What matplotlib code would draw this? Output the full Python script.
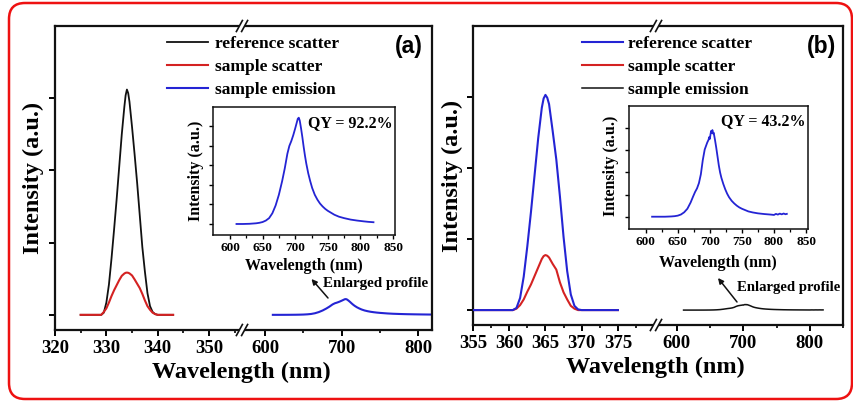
import matplotlib
matplotlib.use('Agg')
import matplotlib.pyplot as plt
from matplotlib.patches import FancyBboxPatch, Polygon, FancyArrowPatch
from matplotlib.lines import Line2D

# ---------------- data ----------------
# panel (a) excitation scatter, 325-343 nm
scat_a_x = [325.0, 326.0, 327.0, 328.0, 328.5, 329.0, 329.5, 330.0, 330.5, 331.0, 331.5, 332.0,
            332.5, 333.0, 333.5, 333.75, 334.0, 334.25, 334.5, 335.0, 335.5, 336.0, 336.5,
            337.0, 337.5, 338.0, 338.5, 339.0, 339.5, 340.0, 341.0, 342.0, 343.0]
ref_scatter_a = [0, 0, 0, 0, 0, 0.0, 0.03, 0.17, 0.42, 0.78, 1.18, 1.60,
                 2.05, 2.50, 2.88, 3.04, 3.12, 3.07, 2.95, 2.60, 2.22, 1.82, 1.38,
                 0.94, 0.60, 0.30, 0.12, 0.04, 0.01, 0, 0, 0, 0]
smp_scatter_a = [0, 0, 0, 0, 0, 0.0, 0.04, 0.09, 0.17, 0.26, 0.34, 0.41,
                 0.48, 0.54, 0.572, 0.582, 0.585, 0.582, 0.574, 0.545, 0.49, 0.43, 0.37,
                 0.29, 0.20, 0.12, 0.07, 0.03, 0.01, 0, 0, 0, 0]

# panel (b) excitation scatter, 355-375 nm
scat_b_x = [355.0, 357.0, 359.0, 360.0, 360.5, 361.0, 361.5, 362.0, 362.5, 363.0, 363.5, 364.0,
            364.5, 364.75, 365.0, 365.25, 365.5, 366.0, 366.5, 367.0, 367.5, 368.0, 368.5,
            369.0, 369.5, 370.0, 372.0, 375.0]
ref_scatter_b = [0, 0, 0, 0, 0, 0.03, 0.17, 0.47, 0.90, 1.38, 1.90, 2.42,
                 2.85, 2.98, 3.03, 2.99, 2.90, 2.52, 2.12, 1.60, 1.03, 0.55, 0.22,
                 0.06, 0.01, 0, 0, 0]
smp_scatter_b = [0, 0, 0, 0, 0, 0.02, 0.07, 0.15, 0.26, 0.36, 0.48, 0.60,
                 0.72, 0.76, 0.775, 0.765, 0.74, 0.65, 0.57, 0.39, 0.25, 0.15, 0.06,
                 0.02, 0.0, 0, 0, 0]

# sample emission of (a): normalised inset profile and the unenlarged main-panel profile
em_a_x = [610, 620, 630, 640, 645, 650, 655, 660, 665, 670, 675, 680, 684, 688, 691, 694,
          697, 700, 702, 704, 705.5, 707, 709, 711, 713, 715, 717, 720, 723, 726, 730, 734,
          738, 742, 746, 750, 755, 760, 767, 775, 785, 795, 805, 812, 820]
em_a_inset = [0.0, 0.0, 0.002, 0.007, 0.012, 0.02, 0.035, 0.06, 0.11, 0.19, 0.30, 0.44,
              0.57, 0.72, 0.80, 0.85, 0.91, 0.98, 1.03, 1.08, 1.09, 1.06, 0.98, 0.89, 0.79,
              0.70, 0.62, 0.52, 0.44, 0.37, 0.30, 0.25, 0.21, 0.18, 0.155, 0.135, 0.115,
              0.095, 0.075, 0.06, 0.045, 0.035, 0.027, 0.022, 0.018]
em_a_main = [0.0, 0.0, 0.0004, 0.0014, 0.0024, 0.004, 0.007, 0.012, 0.022, 0.038, 0.06,
             0.088, 0.114, 0.144, 0.16, 0.17, 0.182, 0.196, 0.206, 0.216, 0.218, 0.212,
             0.196, 0.178, 0.158, 0.14, 0.124, 0.104, 0.088, 0.074, 0.06, 0.05, 0.042,
             0.036, 0.031, 0.027, 0.023, 0.019, 0.015, 0.012, 0.009, 0.007, 0.0054, 0.0044,
             0.0036]

# sample emission of (b)
em_b_x = [610, 620, 630, 640, 645, 650, 655, 660, 665, 670, 674, 677, 680, 683, 686, 689,
          692, 694, 696, 698, 699, 700, 701, 702, 703, 704, 705, 706, 707, 708, 710, 712,
          714, 716, 718, 721, 724, 727, 730, 734, 738, 742, 746, 750, 755, 760, 767, 775,
          785, 795, 800, 803, 806, 809, 812, 815, 818, 820]
em_b_inset = [0.0, 0.0, 0.0, 0.003, 0.006, 0.012, 0.025, 0.05, 0.09, 0.16, 0.23, 0.28,
              0.32, 0.38, 0.48, 0.64, 0.76, 0.80, 0.84, 0.87, 0.90, 0.88, 0.93, 0.97, 0.95,
              0.98, 0.94, 0.95, 0.91, 0.87, 0.78, 0.68, 0.58, 0.50, 0.44, 0.37, 0.31, 0.26,
              0.22, 0.18, 0.15, 0.125, 0.105, 0.09, 0.075, 0.06, 0.048, 0.038, 0.03, 0.024,
              0.02, 0.032, 0.024, 0.035, 0.027, 0.036, 0.028, 0.032]
em_b_main = [0.0, 0.0, 0.0, 0.0002, 0.0005, 0.001, 0.002, 0.004, 0.0072, 0.0128, 0.0184,
             0.0224, 0.0256, 0.0304, 0.0384, 0.0512, 0.0608, 0.064, 0.0672, 0.0696, 0.072,
             0.0704, 0.0744, 0.0776, 0.076, 0.0784, 0.0752, 0.076, 0.0728, 0.0696, 0.0624,
             0.0544, 0.0464, 0.04, 0.0352, 0.0296, 0.0248, 0.0208, 0.0176, 0.0144, 0.012,
             0.01, 0.0084, 0.0072, 0.006, 0.0048, 0.0038, 0.003, 0.0024, 0.0019, 0.0016,
             0.0026, 0.0019, 0.0028, 0.0022, 0.0029, 0.0022, 0.0026]

labels_a = ['reference scatter', 'sample scatter', 'sample emission']
labels_b = ['reference scatter', 'sample scatter', 'sample emission']
qy_a = 'QY = 92.2%'
qy_b = 'QY = 43.2%'

main_ticks_a_left = [320, 330, 340, 350]
main_ticks_a_right = [600, 700, 800]
main_ticks_b_left = [355, 360, 365, 370, 375]
main_ticks_b_right = [600, 700, 800]
inset_ticks = [600, 650, 700, 750, 800, 850]

# ---------------- styling ----------------
W, H = 854, 405
fig = plt.figure(figsize=(W / 100, H / 100), dpi=100)
fig.patch.set_facecolor('white')
SERIF = ['Liberation Serif', 'DejaVu Serif']
SANS = ['Liberation Sans', 'DejaVu Sans']
plt.rcParams['font.family'] = SERIF
plt.rcParams['font.weight'] = 'bold'

BLACK = '#111111'
RED = '#d42222'
BLUE = '#2424d4'


def fx(px):
    return px / W


def fy(py):
    return 1 - py / H


def rect(l, t, r, b):
    return [fx(l), fy(b), (r - l) / W, (b - t) / H]


def style_main(ax, side):
    for s in ax.spines.values():
        s.set_linewidth(1.6)
        s.set_color(BLACK)
    if side == 'left':
        ax.spines['right'].set_visible(False)
        ax.tick_params(axis='y', which='both', left=True, right=False, direction='out',
                       length=4, width=1.4, labelleft=False)
    else:
        ax.spines['left'].set_visible(False)
        ax.tick_params(axis='y', which='both', left=False, right=False, labelleft=False)
    ax.tick_params(axis='x', which='major', direction='out', length=4, width=1.4, pad=3,
                   labelsize=13.5, top=False)
    ax.tick_params(axis='x', which='minor', direction='out', length=2.5, width=1.2, top=False)
    ax.set_ylim(-0.21, 4.0)
    ax.set_yticks([0, 1, 2, 3])
    ax.set_facecolor('none')
    for lab in ax.get_xticklabels():
        lab.set_fontweight('bold')


def style_inset(ax):
    for s in ax.spines.values():
        s.set_linewidth(1.1)
        s.set_color(BLACK)
    ax.tick_params(axis='both', which='major', direction='out', length=3, width=1.0,
                   labelsize=9.5, pad=2)
    ax.tick_params(axis='x', which='minor', direction='out', length=2, width=0.9)
    ax.tick_params(axis='y', labelleft=False)
    ax.set_xlim(574, 853)
    ax.set_xticks(inset_ticks)
    ax.set_xticks([625, 675, 725, 775, 825], minor=True)


a_left = fig.add_axes(rect(55, 26, 243, 330))
a_right = fig.add_axes(rect(243, 26, 432, 330))
b_left = fig.add_axes(rect(473, 26, 657, 325))
b_right = fig.add_axes(rect(657, 26, 843, 325))

# panel (a)
l1, = a_left.plot(scat_a_x, ref_scatter_a, color=BLACK, lw=1.3, zorder=2)
l2, = a_left.plot(scat_a_x, smp_scatter_a, color=RED, lw=1.5, zorder=3)
l3, = a_right.plot(em_a_x, em_a_main, color=BLUE, lw=1.5)
a_left.set_xlim(320, 356.6)
a_left.set_xticks(main_ticks_a_left)
a_left.set_xticks([325, 335, 345, 355], minor=True)
a_right.set_xlim(571, 818)
a_right.set_xticks(main_ticks_a_right)
a_right.set_xticks([650, 750], minor=True)
style_main(a_left, 'left')
style_main(a_right, 'right')

# panel (b)
m2, = b_left.plot(scat_b_x, smp_scatter_b, color=RED, lw=1.5, zorder=2)
m1, = b_left.plot(scat_b_x, ref_scatter_b, color=BLUE, lw=1.5, zorder=3)
m3, = b_right.plot(em_b_x, em_b_main, color=BLACK, lw=1.1)
b_left.set_xlim(355, 380.4)
b_left.set_xticks(main_ticks_b_left)
b_left.set_xticks([357.5, 362.5, 367.5, 372.5, 377.5], minor=True)
b_right.set_xlim(570, 849)
b_right.set_xticks(main_ticks_b_right)
b_right.set_xticks([650, 750, 850], minor=True)
style_main(b_left, 'left')
style_main(b_right, 'right')

# insets
a_ins = fig.add_axes(rect(213, 107, 395, 235))
a_ins.plot(em_a_x, em_a_inset, color=BLUE, lw=1.3)
style_inset(a_ins)
a_ins.set_ylim(-0.113, 1.2)
a_ins.set_yticks([0, 0.2, 0.4, 0.6, 0.8, 1.0])
a_ins.text(0.522, 0.875, qy_a, transform=a_ins.transAxes, fontsize=11.5,
           fontweight='bold', va='center', ha='left')

b_ins = fig.add_axes(rect(629, 106, 808, 229))
b_ins.plot(em_b_x, em_b_inset, color=BLUE, lw=1.3)
style_inset(b_ins)
b_ins.set_ylim(-0.139, 1.252)
b_ins.set_yticks([0, 0.25, 0.5, 0.75, 1.0])
b_ins.text(0.514, 0.878, qy_b, transform=b_ins.transAxes, fontsize=11.5,
           fontweight='bold', va='center', ha='left')

# axis titles
fig.text(fx(241), fy(372), 'Wavelength (nm)', fontsize=17.5, fontweight='bold',
         ha='center', va='center')
fig.text(fx(655), fy(367), 'Wavelength (nm)', fontsize=17.5, fontweight='bold',
         ha='center', va='center')
fig.text(fx(33), fy(178), 'Intensity (a.u.)', fontsize=17.5, fontweight='bold',
         ha='center', va='center', rotation=90)
fig.text(fx(452), fy(176), 'Intensity (a.u.)', fontsize=17.5, fontweight='bold',
         ha='center', va='center', rotation=90)
fig.text(fx(304), fy(266), 'Wavelength (nm)', fontsize=11.5, fontweight='bold',
         ha='center', va='center')
fig.text(fx(718), fy(263), 'Wavelength (nm)', fontsize=11.5, fontweight='bold',
         ha='center', va='center')
fig.text(fx(196), fy(171), 'Intensity (a.u.)', fontsize=11.5, fontweight='bold',
         ha='center', va='center', rotation=90)
fig.text(fx(611), fy(166), 'Intensity (a.u.)', fontsize=11.5, fontweight='bold',
         ha='center', va='center', rotation=90)

# panel letters
fig.text(fx(395), fy(47), '(a)', fontsize=16.5, fontweight='bold', family=SANS,
         ha='left', va='center')
fig.text(fx(807), fy(47), '(b)', fontsize=16.5, fontweight='bold', family=SANS,
         ha='left', va='center')

# legends
legprop = dict(family=SERIF, weight='bold', size=12.5)
fig.legend([l1, l2, l3], labels_a, loc='upper left', bbox_to_anchor=(fx(167), fy(36)),
           frameon=False, borderpad=0, borderaxespad=0, handlelength=2.35,
           handletextpad=0.4, labelspacing=0.4, prop=legprop)
fig.legend([m1, m2, m3], labels_b, loc='upper left', bbox_to_anchor=(fx(582), fy(36)),
           frameon=False, borderpad=0, borderaxespad=0, handlelength=2.35,
           handletextpad=0.3, labelspacing=0.4, prop=legprop)

# enlarged profile notes
fig.text(fx(323), fy(284), 'Enlarged profile', fontsize=10.8, fontweight='bold',
         ha='left', va='center')
fig.text(fx(737), fy(287), 'Enlarged profile', fontsize=10.6, fontweight='bold',
         ha='left', va='center')
for tail, head in [((328, 298), (311.5, 279)), ((737, 302), (718, 278))]:
    fig.add_artist(FancyArrowPatch(
        (fx(tail[0]), fy(tail[1])), (fx(head[0]), fy(head[1])), transform=fig.transFigure,
        arrowstyle='-|>', mutation_scale=8, lw=1.1, color=BLACK, shrinkA=0, shrinkB=0))


# axis breaks
def axis_break(xc, yc):
    dx, dy, off = 3.0, 5.5, 2.6
    poly = Polygon([(fx(xc - off - dx), fy(yc + dy)), (fx(xc - off + dx), fy(yc - dy)),
                    (fx(xc + off + dx), fy(yc - dy)), (fx(xc + off - dx), fy(yc + dy))],
                   closed=True, fc='white', ec='none', transform=fig.transFigure, zorder=5)
    fig.add_artist(poly)
    for s in (-off, off):
        fig.add_artist(Line2D([fx(xc + s - dx), fx(xc + s + dx)], [fy(yc + dy), fy(yc - dy)],
                              color=BLACK, lw=1.2, zorder=6))


axis_break(242, 330)
axis_break(242, 26)
axis_break(656, 325)
axis_break(656, 26)

# red rounded frame
frame = FancyBboxPatch((0.09, 0.06), 8.43, 3.96, boxstyle='round,pad=0,rounding_size=0.16',
                       transform=fig.dpi_scale_trans, fc='none', ec='#ee1111', lw=1.8,
                       zorder=10)
fig.add_artist(frame)

fig.savefig('out.png', dpi=100, facecolor='white')
